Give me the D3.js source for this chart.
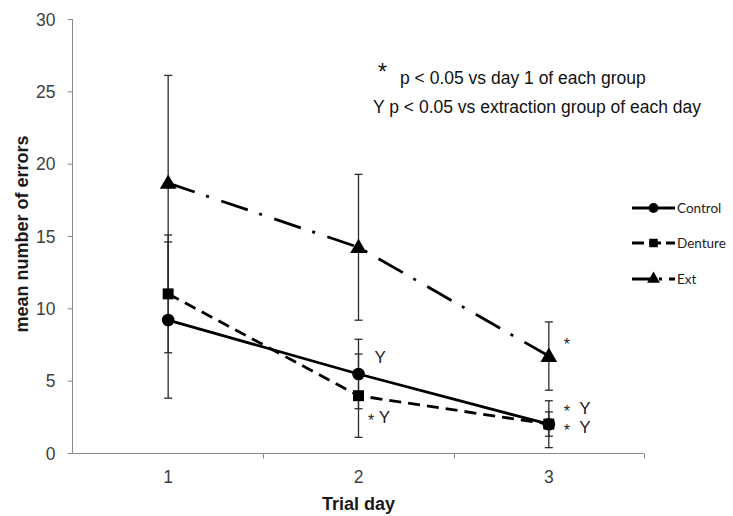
<!DOCTYPE html>
<html><head><meta charset="utf-8">
<script src="https://cdn.jsdelivr.net/npm/d3@7"></script>
<style>body{margin:0;background:#fff}svg{display:block}</style>
</head><body>
<svg id="chart" width="733" height="516"></svg>
<script>
// ---- data ----
const days = ["1", "2", "3"];
const controlMean = [9.19, 5.46, 1.99];
const controlErr  = [5.4, 2.4, 1.62];
const dentureMean = [11.0, 3.96, 2.0];
const dentureErr  = [4.07, 2.88, 0.84];
const extMean     = [18.66, 14.22, 6.7];
const extErr      = [7.44, 5.04, 2.36];
const yTicks = [0, 5, 10, 15, 20, 25, 30];
const seriesNames = ["Control", "Denture", "Ext"];
const noteLines = ["p < 0.05 vs day 1 of each group", "Y p < 0.05 vs extraction group of each day"];
// significance marks: [day, value level of the label, text]
const marks = [
  ["2", 6.64, "Y"],
  ["2", 2.49, "* Y"],
  ["3", 7.75, "*"],
  ["3", 3.11, "*  Y"],
  ["3", 1.8, "*  Y"]
];

const svg = d3.select("#chart");
const font = "'Liberation Sans', Arial, sans-serif";
const x = d3.scaleBand().domain(days).range([73, 644]);
const y = d3.scaleLinear().domain([0, 30]).range([453, 19]);
const cx = d => x(d) + x.bandwidth() / 2;

const series = [
  {name: seriesNames[0], mean: controlMean, err: controlErr, dash: null, shape: d3.symbolCircle, size: 125},
  {name: seriesNames[1], mean: dentureMean, err: dentureErr, dash: "12,7", shape: d3.symbolSquare, size: 120},
  {name: seriesNames[2], mean: extMean, err: extErr, dash: "28,12,3,13", shape: d3.symbolTriangle, size: 120}
];

// axes
const axisColor = "#8a8a8a";
const yAxis = svg.append("g").attr("transform", "translate(72.5,0)")
  .call(d3.axisLeft(y).tickValues(yTicks).tickSize(5).tickPadding(12));
yAxis.select(".domain").attr("stroke", axisColor).attr("d", `M-0,${y(30)}V${y(0)}`);
yAxis.selectAll(".tick line").attr("stroke", axisColor);
yAxis.selectAll(".tick text").attr("font-family", font).attr("font-size", 17.5).attr("fill", "#404040").attr("dy", "0.36em");

const xg = svg.append("g").attr("transform", `translate(0,${y(0) + 0.5})`);
xg.append("line").attr("x1", 72).attr("x2", 644).attr("stroke", axisColor);
const bounds = days.map(d => x(d)).concat([x(days[days.length - 1]) + x.bandwidth()]);
xg.selectAll(".xt").data(bounds.slice(1)).join("line")
  .attr("x1", d => Math.round(d) + 0.5).attr("x2", d => Math.round(d) + 0.5)
  .attr("y1", 0).attr("y2", 5).attr("stroke", axisColor);
xg.selectAll(".xl").data(days).join("text")
  .attr("x", d => cx(d)).attr("y", 29.5).attr("text-anchor", "middle")
  .attr("font-family", font).attr("font-size", 17.5).attr("fill", "#404040").text(d => d);

svg.append("text").attr("x", cx("2")).attr("y", 510).attr("text-anchor", "middle")
  .attr("font-family", font).attr("font-size", 18).attr("font-weight", "bold").attr("fill", "#1a1a1a").text("Trial day");
svg.append("text").attr("transform", "translate(28,234) rotate(-90)").attr("text-anchor", "middle")
  .attr("font-family", font).attr("font-size", 18).attr("font-weight", "bold").attr("fill", "#1a1a1a").text("mean number of errors");

// lines
const line = d3.line().x((d, i) => cx(days[i])).y(d => y(d));
series.forEach(s => {
  svg.append("path").attr("d", line(s.mean)).attr("fill", "none").attr("stroke", "#000")
    .attr("stroke-width", 2.8).attr("stroke-dasharray", s.dash);
});
// error bars
series.forEach(s => {
  const g = svg.append("g").attr("stroke", "#2a2a2a").attr("stroke-width", 1.3);
  s.mean.forEach((m, i) => {
    const X = cx(days[i]);
    const hi = y(m + s.err[i]), lo = y(Math.max(0, m - s.err[i]));
    g.append("line").attr("x1", X).attr("x2", X).attr("y1", hi).attr("y2", lo);
    g.append("line").attr("x1", X - 4).attr("x2", X + 4).attr("y1", hi).attr("y2", hi);
    g.append("line").attr("x1", X - 4).attr("x2", X + 4).attr("y1", lo).attr("y2", lo);
  });
});
// markers
series.forEach(s => {
  const sym = d3.symbol().type(s.shape).size(s.size);
  s.mean.forEach((m, i) => {
    const dy = s.shape === d3.symbolTriangle ? 1 : 0;
    svg.append("path").attr("d", sym()).attr("fill", "#000")
      .attr("transform", `translate(${cx(days[i])},${y(m) + dy})`);
  });
});

// significance marks (labels placed right of each day's error bars)
marks.forEach(([d, v, t]) => {
  const dx = t === "Y" ? 16 : (d === "2" ? 9.5 : 15);
  const g = svg.append("text").attr("x", cx(d) + dx).attr("y", y(v) + 6).attr("xml:space", "preserve")
    .attr("font-family", font).attr("font-size", 17).attr("fill", "#222");
  t.split("").forEach(ch => {
    if (ch === "*") g.append("tspan").attr("font-size", 16).attr("dy", 3).text("*");
    else if (ch === "Y") g.append("tspan").attr("dy", t.length > 1 ? -3 : 0).text("Y");
    else g.append("tspan").text(ch);
  });
});

// note box
svg.append("text").attr("x", 378).attr("y", 80).attr("font-family", font).attr("font-size", 23).attr("fill", "#111").text("*");
svg.append("text").attr("x", 400).attr("y", 84).attr("font-family", font).attr("font-size", 17.5).attr("fill", "#111").text(noteLines[0]);
svg.append("text").attr("x", 373).attr("y", 113).attr("font-family", font).attr("font-size", 17.5).attr("fill", "#111").text(noteLines[1]);

// legend
const legY = [208, 243, 279];
const legDash = [null, "12,5", "20,7,3,7"];
series.forEach((s, i) => {
  const g = svg.append("g").attr("transform", `translate(0,${legY[i]})`);
  g.append("line").attr("x1", 632).attr("x2", 675).attr("stroke", "#000").attr("stroke-width", 2.8)
    .attr("stroke-dasharray", legDash[i]);
  g.append("path").attr("d", d3.symbol().type(s.shape).size(s.size * 0.6)()).attr("transform", "translate(653.5,0)");
  g.append("text").attr("x", 677).attr("y", 5).attr("font-family", "Lato, 'Open Sans', sans-serif")
    .attr("font-size", 13.5).attr("fill", "#222").text(s.name);
});
</script>
</body></html>
